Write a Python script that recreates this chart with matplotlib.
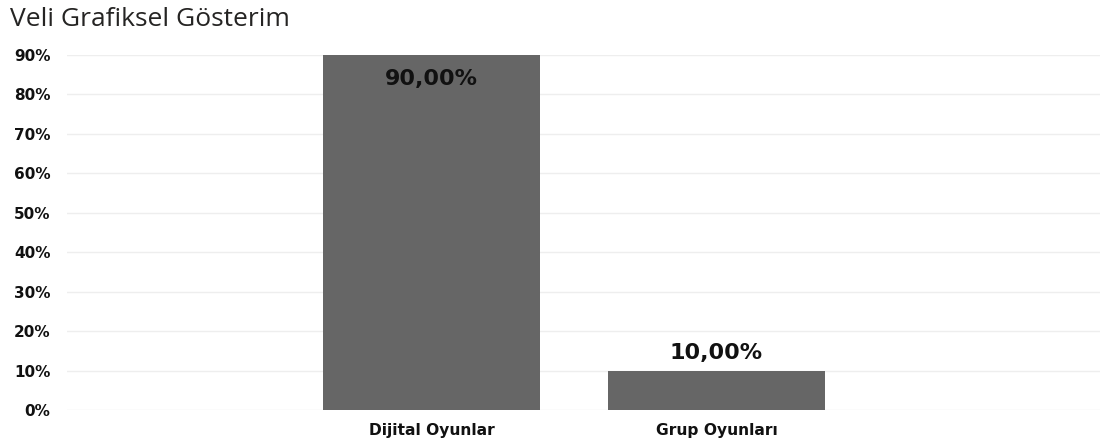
import matplotlib
matplotlib.use("Agg")
import matplotlib.pyplot as plt
from matplotlib.ticker import FuncFormatter

categories = ["Dijital Oyunlar", "Grup Oyunları"]
values = [90.0, 10.0]
yticks = [0, 10, 20, 30, 40, 50, 60, 70, 80, 90]
title = "Veli Grafiksel Gösterim"

fig = plt.figure(figsize=(11.01, 4.43), dpi=100)
ax = fig.add_axes([67/1101, 33/443, 1033/1101, 355/443])

x = list(range(len(categories)))
bars = ax.bar(x, values, width=0.76, color="#666666", zorder=3)

ax.set_xlim(-1.279, 2.346)
ax.set_ylim(0, 90)
ax.set_yticks(yticks)
ax.yaxis.set_major_formatter(FuncFormatter(lambda v, p: f"{int(v)}%"))
ax.grid(axis="y", color="#eeeeee", linewidth=1, zorder=0)
for s in ax.spines.values():
    s.set_visible(False)
ax.tick_params(axis="y", length=0, pad=12)
ax.tick_params(axis="x", length=0, pad=9)
for lab in ax.get_yticklabels():
    lab.set_fontweight("bold")
    lab.set_fontsize(11)
    lab.set_family("DejaVu Sans")
    lab.set_color("#111111")
ax.set_xticks(x)
ax.set_xticklabels(categories, fontsize=11.2, fontweight="bold", color="#111111",
                   family="DejaVu Sans")

def fmt(v):
    return f"{v:.2f}".replace(".", ",") + "%"

for xi, v in zip(x, values):
    if v > 50:
        ax.annotate(fmt(v), (xi, v), xytext=(0, -10), textcoords="offset points",
                    ha="center", va="top", fontsize=16, fontweight="bold",
                    family="DejaVu Sans", color="#111111", zorder=4)
    else:
        ax.annotate(fmt(v), (xi, v), xytext=(0, 5.5), textcoords="offset points",
                    ha="center", va="bottom", fontsize=16, fontweight="bold",
                    family="DejaVu Sans", color="#111111", zorder=4)

fig.text(10/1101, 1 - 19/443, title, fontsize=19, family="Open Sans", color="#252423",
         ha="left", va="center")

fig.savefig("out.png", dpi=100)
